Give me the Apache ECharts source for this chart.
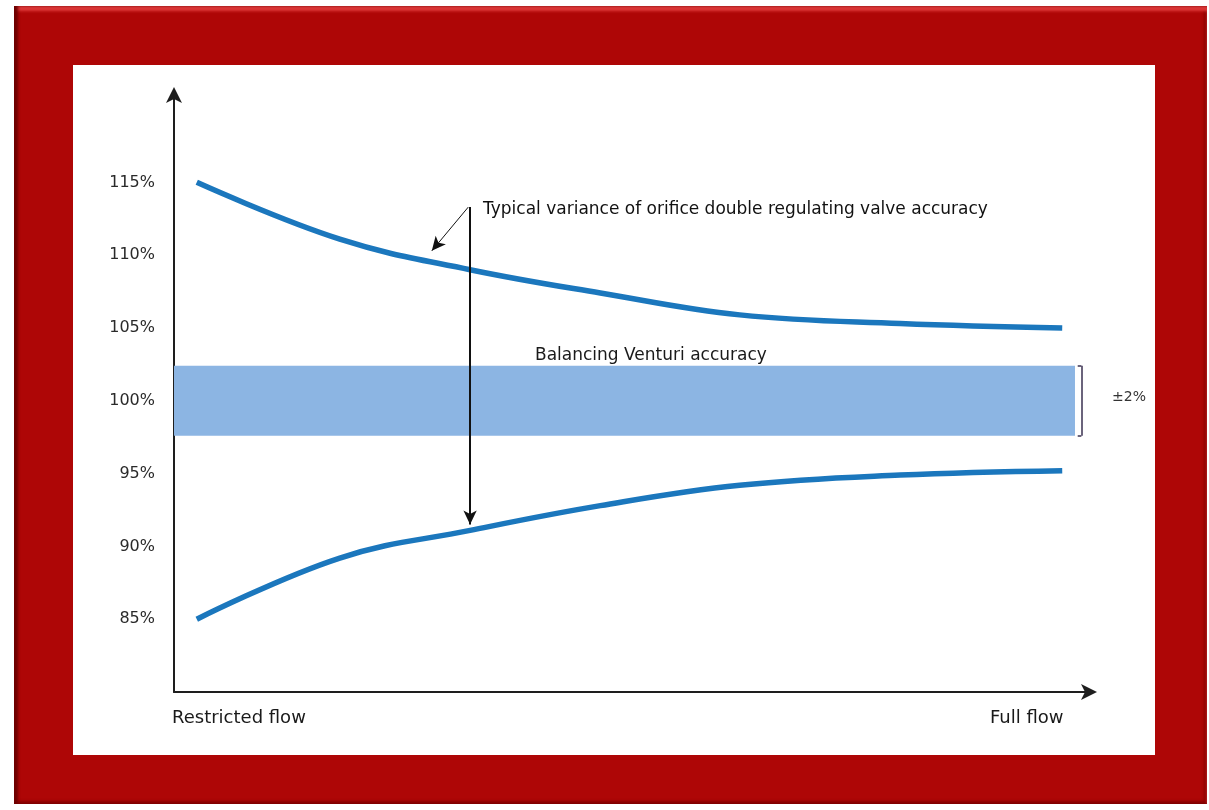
<!DOCTYPE html>
<html>
<head>
<meta charset="utf-8">
<script src="https://cdn.jsdelivr.net/npm/echarts@6/dist/echarts.min.js"></script>
<style>
  html, body { margin:0; padding:0; background:#ffffff; width:1209px; height:810px; overflow:hidden; }
  #frame { position:absolute; left:14px; top:6px; width:1193px; height:798px; background:#ae0606;
           box-shadow: inset 4px 0 3px #6e0000, inset 0 5px 3px #e03a3a, inset -3px -3px 3px #8a0000; }
  #inner { position:absolute; left:73px; top:65px; width:1082px; height:690px; background:#ffffff; }
  #chart { position:absolute; left:0; top:0; width:1209px; height:810px; }
</style>
</head>
<body>
<div id="frame"></div>
<div id="inner"></div>
<div id="chart"></div>
<script>
// Flow position (0 = restricted flow, 100 = full flow)
const flowPos = [2.5, 18.2, 32.5, 46.8, 62.1, 79.7, 97.5];
// Upper limit of typical regulating valve accuracy (%)
const upperValues = [115.0, 111.1, 109.0, 107.4, 105.9, 105.3, 105.0];
// Lower limit of typical regulating valve accuracy (%)
const lowerValues = [85.0, 89.2, 91.1, 92.8, 94.2, 94.9, 95.2];
// Venturi accuracy band (%)
const bandLow = 97.6;
const bandHigh = 102.4;
const bandLabel = '±2%';
// Y tick labels shown
const yTicks = [85, 90, 95, 100, 105, 110, 115];
const xEndLabels = ['Restricted flow', 'Full flow'];
const annotationText = 'Typical variance of orifice double regulating valve accuracy';
const bandText = 'Balancing Venturi accuracy';
// Arrow anchor points (flow position, %)
const arrowX = 32.5, arrowTop = 113.3, arrowBottom = 91.5;
const diagEnd = [28.3, 110.3];

const FONT = 'DejaVu Sans, Verdana, sans-serif';
const chart = echarts.init(document.getElementById('chart'), null, {renderer:'canvas'});
const grid = {left:174, top:95, width:911, height:597};

const toPairs = (xs, ys) => xs.map((x, i) => [x, ys[i]]);

chart.setOption({
  animation:false,
  grid: grid,
  xAxis: {
    type:'value', min:0, max:100,
    axisLine:{show:true, lineStyle:{color:'#1e1e1e', width:2}, symbol:['none','arrow'], symbolSize:[12,16], symbolOffset:[0,12]},
    axisTick:{show:false}, axisLabel:{show:false}, splitLine:{show:false}
  },
  yAxis: {
    type:'value', min:80, max:121, interval:5,
    axisLine:{show:true, onZero:false, lineStyle:{color:'#1e1e1e', width:2}, symbol:['none','arrow'], symbolSize:[12,16], symbolOffset:[0,8]},
    axisTick:{show:false}, splitLine:{show:false},
    axisLabel:{
      margin:19, color:'#2a2a2a', fontSize:16, fontFamily:FONT,
      formatter: v => yTicks.indexOf(v) >= 0 ? v + '%' : ''
    }
  },
  series: [
    {
      type:'line', data:toPairs(flowPos, upperValues), smooth:0.4, symbol:'none',
      lineStyle:{color:'#1b77bd', width:5.5}, z:3,
      markLine:{
        silent:true, symbol:['none','arrow'], symbolSize:[10,14],
        lineStyle:{color:'#111', width:2, type:'solid'}, label:{show:false},
        data:[
          [{coord:[arrowX, arrowTop]}, {coord:[arrowX, arrowBottom]}],
          [{coord:[arrowX - 0.2, arrowTop], lineStyle:{width:1}}, {coord:diagEnd, lineStyle:{width:1}}]
        ]
      }
    },
    {
      type:'line', data:toPairs(flowPos, lowerValues), smooth:0.4, symbol:'none',
      lineStyle:{color:'#1b77bd', width:5.5}, z:3
    },
    {
      type:'line', data:[], symbol:'none',
      markArea:{
        silent:true, itemStyle:{color:'#8cb5e3'},
        label:{show:false},
        data:[[{coord:[0, bandLow]}, {coord:[98.9, bandHigh]}]]
      },
      markLine:{
        silent:true, symbol:['none','none'],
        lineStyle:{color:'#3a3050', width:1.5, type:'solid'},
        data:[
          [{coord:[99.6, bandHigh]}, {coord:[99.6, bandLow]}],
          [{coord:[99.2, bandHigh]}, {coord:[99.6, bandHigh]}],
          [{coord:[99.2, bandLow]}, {coord:[99.6, bandLow]}]
        ],
        label:{show:false}
      }
    }
  ],
  graphic: [
    {type:'text', left:483, top:201, style:{text:annotationText, font:'17px ' + FONT, fill:'#111'}},
    {type:'text', left:535, top:347, style:{text:bandText, font:'17px ' + FONT, fill:'#1a1a1a'}},
    {type:'text', left:1112, top:390, style:{text:bandLabel, font:'14px ' + FONT, fill:'#333'}},
    {type:'text', left:172, top:709, style:{text:xEndLabels[0], font:'18px ' + FONT, fill:'#1a1a1a'}},
    {type:'text', left:990, top:709, style:{text:xEndLabels[1], font:'18px ' + FONT, fill:'#1a1a1a'}}
  ]
});
</script>
</body>
</html>
